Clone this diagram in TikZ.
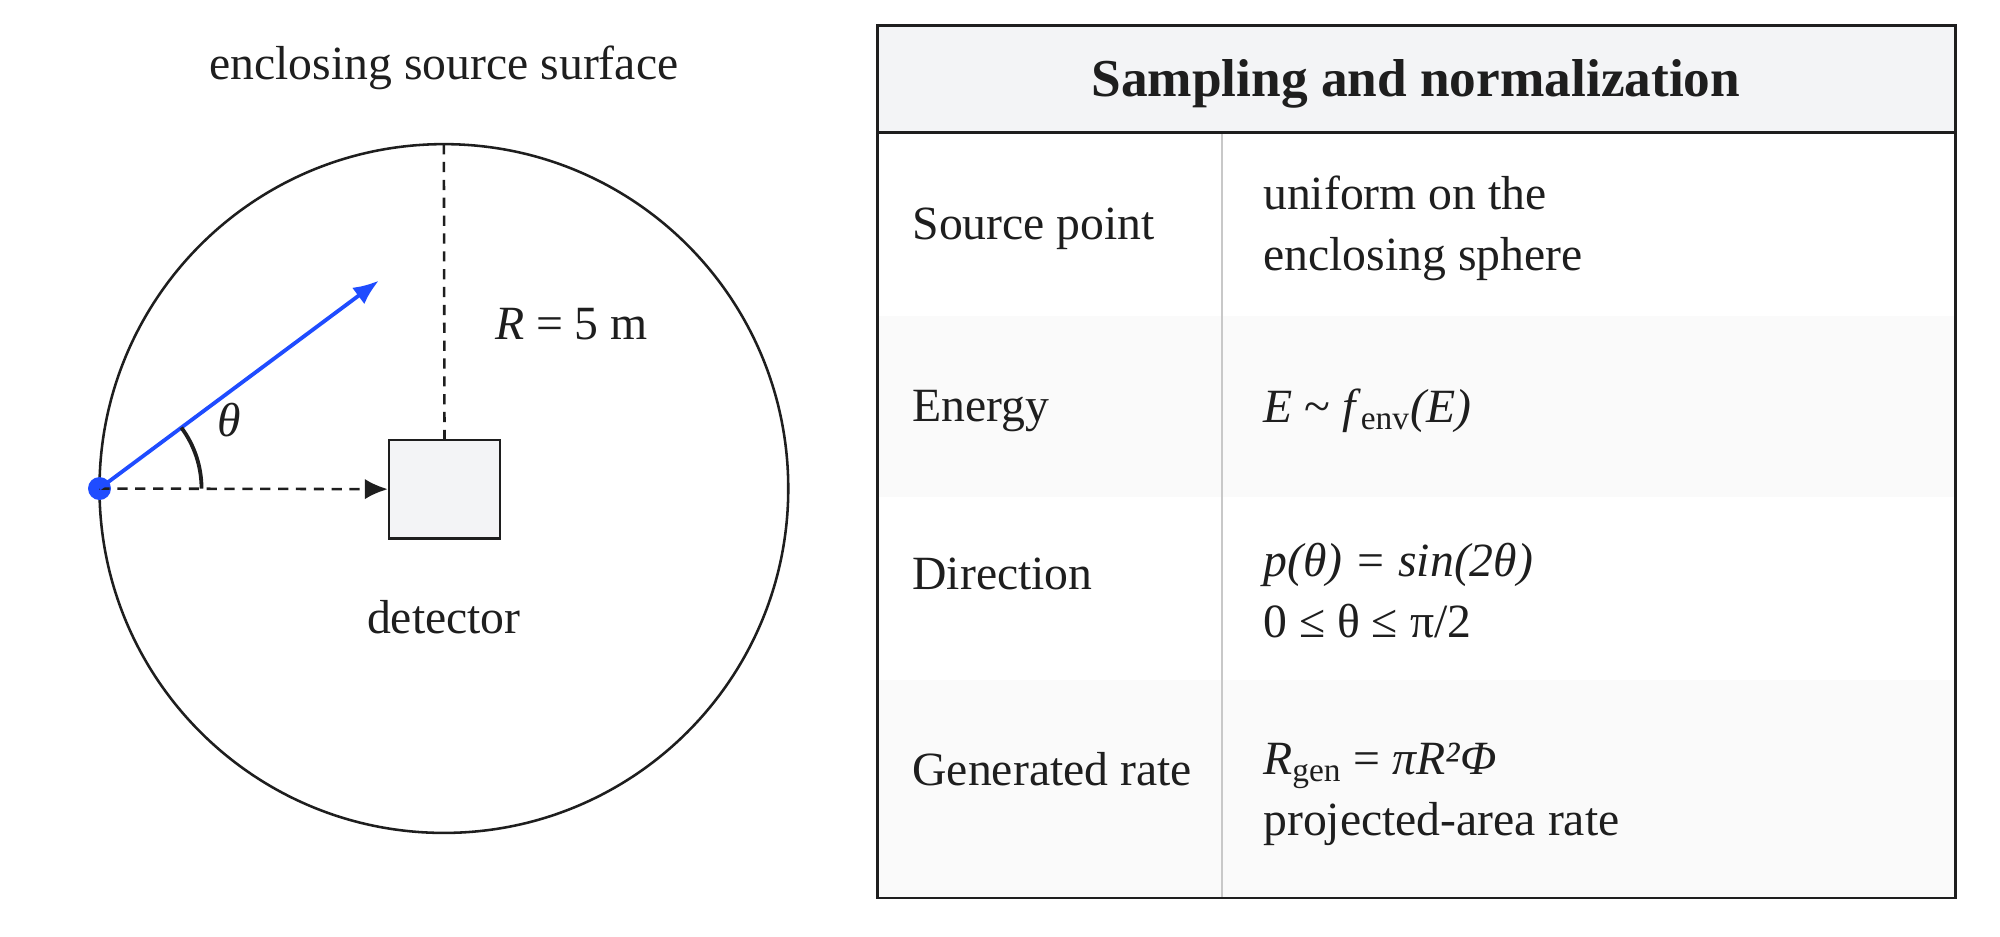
\documentclass[tikz,border=0pt]{standalone}
\usepackage{fontspec}
\setmainfont{Liberation Serif}
\usetikzlibrary{arrows.meta}
\definecolor{rayblue}{RGB}{31,76,255}
\definecolor{boxgray}{RGB}{243,244,246}
\definecolor{rowgray}{RGB}{250,250,250}
\definecolor{inkcol}{RGB}{30,30,30}
\definecolor{rulegray}{RGB}{200,200,200}
\begin{document}
\begin{tikzpicture}[yscale=-1,x=0.5pt,y=0.5pt,font=\fontsize{18.7}{24}\selectfont
,lbl/.style={text=inkcol,inner sep=0pt}
,cell/.style={text=inkcol,inner sep=0pt,anchor=west,align=left}
,dashline/.style={draw=inkcol,line width=1pt,dash pattern=on 4pt off 3pt}
]
\useasboundingbox (0,0) rectangle (1568,734);
% left: source sphere
\node[draw=inkcol,line width=1pt,circle,minimum size=270pt,inner sep=0pt] (sphere) at (348,383) {};
\node[lbl] (title) at (348,53) {enclosing source surface};
\node[draw=inkcol,line width=1pt,fill=boxgray,minimum width=43.5pt,minimum height=38.5pt,inner sep=0pt] (det) at (348.5,383.5) {};
\node[lbl] (detlbl) at (348,484) {detector};
\node[lbl] (rlbl) at (448,254) {\textit{R} = 5 m};
\coordinate (top) at (348,113);
\coordinate (tip) at (297,220);
\node[circle,fill=rayblue,minimum size=9pt,inner sep=0pt] (src) at (78,383) {};
\draw[dashline] (top) -- (det.north);
\draw[dashline,-{Latex[length=9pt,width=8pt]}] (src.center) -- (det.west);
\draw[rayblue,line width=1.5pt,-{Latex[length=10pt,width=8pt]}] (src.center) -- (tip);
\draw[inkcol,line width=1.5pt] ([xshift=40pt]src.center) arc (0:-36.7:40pt);
\node[lbl] (theta) at (180,329) {\textit{θ}};
% right: table
\fill[boxgray] (688,20) rectangle (1533,104);
\fill[rowgray] (688,248) rectangle (1533,390);
\fill[rowgray] (688,533) rectangle (1533,704);
\draw[rulegray,line width=1pt] (958,104) -- (958,704);
\draw[inkcol,line width=1pt] (688,104) -- (1533,104);
\draw[inkcol,line width=1pt] (688,20) rectangle (1533,704);
\node[lbl,font=\fontsize{20.9}{24}\selectfont\bfseries] (head) at (1110,66) {Sampling and normalization};
\node[cell] (k1) at (715,179) {Source point};
\node[cell] (v1) at (990,179) {uniform on the\\enclosing sphere};
\node[cell] (k2) at (715,322) {Energy};
\node[cell] (v2) at (990,322) {\textit{E} \textasciitilde{} \textit{f}\textsubscript{env}\textit{(E)}};
\node[cell] (k3) at (715,450) {Direction};
\node[cell] (v3) at (990,463) {\textit{p(θ) = sin(2θ)}\\0 ≤ θ ≤ π/2};
\node[cell] (k4) at (715,603) {Generated rate};
\node[cell] (v4) at (990,623) {\textit{R}\textsubscript{gen} = \textit{πR²Φ}\\projected-area rate};
\end{tikzpicture}
\end{document}
